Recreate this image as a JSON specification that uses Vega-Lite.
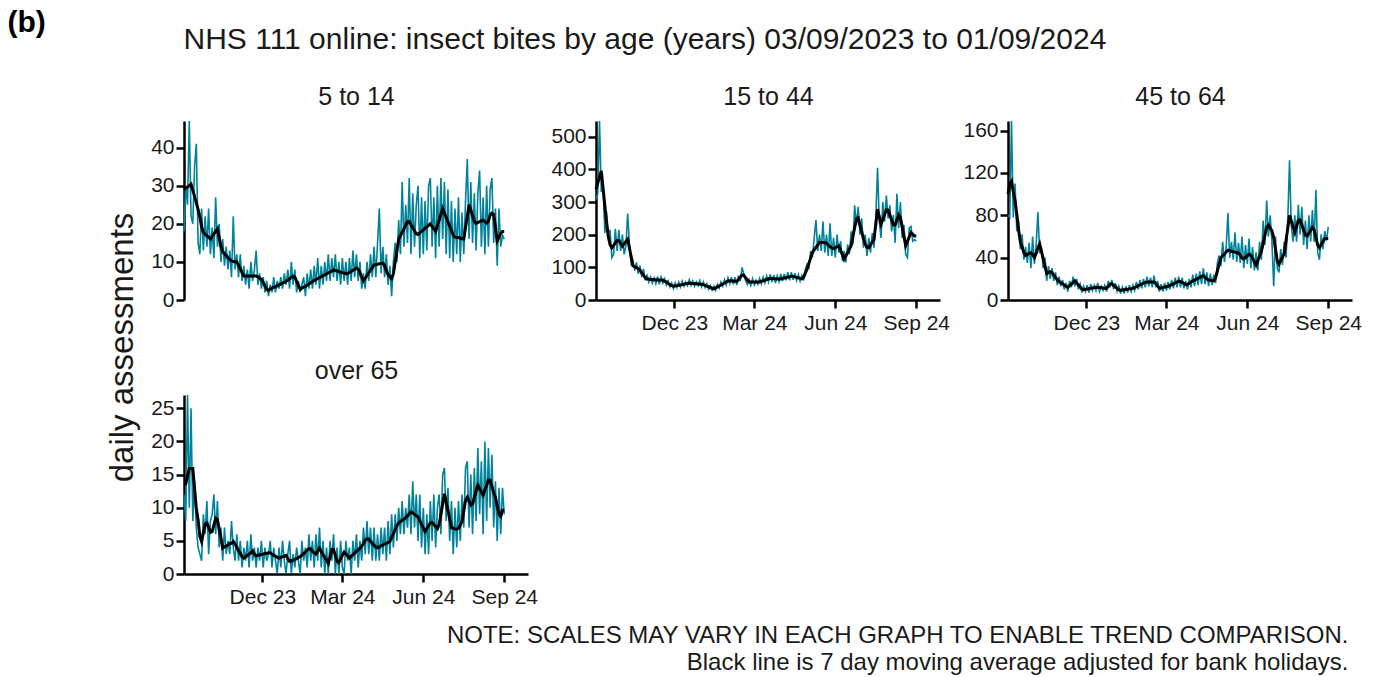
{
"$schema":"https://vega.github.io/schema/vega-lite/v6.json",
"padding":{"left":7,"top":7,"right":5,"bottom":2},
"background":"white",
"datasets":{"t":[
{"d":"2023-09-03","a":18,"ma":29,"b":308,"mb":339,"c":80,"mc":100,"e":12,"me":13.5},
{"d":"2023-09-05","a":30,"ma":29.4,"b":325,"mb":358,"c":78,"mc":109,"e":8,"me":13.6},
{"d":"2023-09-07","a":25,"ma":29.7,"b":548,"mb":376,"c":169,"mc":112,"e":27,"me":14.8},
{"d":"2023-09-09","a":47,"ma":30,"b":330,"mb":395,"c":78,"mc":102,"e":10,"me":15.9},
{"d":"2023-09-11","a":22,"ma":30.4,"b":360,"mb":344,"c":110,"mc":94,"e":25,"me":15.9},
{"d":"2023-09-13","a":20,"ma":28.8,"b":205,"mb":290,"c":65,"mc":81,"e":8,"me":15.9},
{"d":"2023-09-15","a":35,"ma":27.2,"b":270,"mb":235,"c":75,"mc":66,"e":14,"me":12.9},
{"d":"2023-09-17","a":41,"ma":25.5,"b":200,"mb":194,"c":48,"mc":55,"e":7,"me":9.9},
{"d":"2023-09-19","a":15,"ma":23.8,"b":215,"mb":169,"c":62,"mc":50,"e":4,"me":8.2},
{"d":"2023-09-21","a":12,"ma":21.8,"b":130,"mb":160,"c":38,"mc":45,"e":3,"me":5.7},
{"d":"2023-09-23","a":24,"ma":19.2,"b":140,"mb":167,"c":50,"mc":42,"e":2,"me":4.9},
{"d":"2023-09-25","a":13,"ma":17.8,"b":218,"mb":175,"c":35,"mc":43,"e":9,"me":6.2},
{"d":"2023-09-27","a":22,"ma":17.3,"b":150,"mb":182,"c":54,"mc":44,"e":6,"me":7.5},
{"d":"2023-09-29","a":14,"ma":16.9,"b":215,"mb":182,"c":30,"mc":44.6,"e":11,"me":7.7},
{"d":"2023-10-01","a":24,"ma":16.4,"b":150,"mb":173,"c":60,"mc":43,"e":3,"me":7},
{"d":"2023-10-03","a":12,"ma":16,"b":200,"mb":165,"c":34,"mc":40,"e":8,"me":6.3},
{"d":"2023-10-05","a":19,"ma":16.7,"b":140,"mb":172,"c":52,"mc":44,"e":9,"me":6.4},
{"d":"2023-10-07","a":11,"ma":17.4,"b":165,"mb":179,"c":83,"mc":49,"e":12,"me":7.4},
{"d":"2023-10-09","a":27,"ma":18,"b":265,"mb":186,"c":44,"mc":53,"e":6,"me":8.4},
{"d":"2023-10-11","a":14,"ma":18.7,"b":170,"mb":159,"c":50,"mc":46,"e":11,"me":8.2},
{"d":"2023-10-13","a":20,"ma":16.4,"b":110,"mb":132,"c":30,"mc":39,"e":4,"me":6.8},
{"d":"2023-10-15","a":10,"ma":14.1,"b":120,"mb":105,"c":40,"mc":32,"e":7,"me":5.4},
{"d":"2023-10-17","a":16,"ma":12.7,"b":90,"mb":102,"c":18,"mc":25,"e":2,"me":3.9},
{"d":"2023-10-19","a":9,"ma":12.2,"b":115,"mb":99,"c":32,"mc":26,"e":7,"me":4.1},
{"d":"2023-10-21","a":14,"ma":11.6,"b":80,"mb":96,"c":20,"mc":26.6,"e":3,"me":4.2},
{"d":"2023-10-23","a":8,"ma":11.1,"b":105,"mb":91,"c":30,"mc":25.9,"e":5,"me":4.4},
{"d":"2023-10-25","a":13,"ma":10.6,"b":70,"mb":83,"c":18,"mc":23.6,"e":3,"me":4.6},
{"d":"2023-10-27","a":6,"ma":10.3,"b":95,"mb":76,"c":26,"mc":21.4,"e":8,"me":4.6},
{"d":"2023-10-29","a":22,"ma":10.1,"b":60,"mb":68,"c":14,"mc":19,"e":4,"me":4.9},
{"d":"2023-10-31","a":8,"ma":10,"b":75,"mb":64,"c":22,"mc":17.5,"e":2,"me":4.5},
{"d":"2023-11-02","a":12,"ma":10,"b":55,"mb":64,"c":13,"mc":16.4,"e":6,"me":4},
{"d":"2023-11-04","a":6,"ma":9.1,"b":70,"mb":63,"c":19,"mc":15.3,"e":2,"me":3.5},
{"d":"2023-11-06","a":12,"ma":8.2,"b":52,"mb":63,"c":10,"mc":14.2,"e":5,"me":3.1},
{"d":"2023-11-08","a":5,"ma":7.2,"b":68,"mb":62,"c":16,"mc":13,"e":1,"me":2.6},
{"d":"2023-11-10","a":9,"ma":6.3,"b":50,"mb":62,"c":8,"mc":12,"e":4,"me":2.4},
{"d":"2023-11-12","a":4,"ma":6.3,"b":72,"mb":61,"c":18,"mc":13.5,"e":2,"me":2.6},
{"d":"2023-11-14","a":8,"ma":6.3,"b":48,"mb":61,"c":12,"mc":15,"e":5,"me":2.8},
{"d":"2023-11-16","a":3,"ma":6.3,"b":70,"mb":61,"c":22,"mc":16.5,"e":1,"me":3},
{"d":"2023-11-18","a":10,"ma":6.3,"b":52,"mb":61,"c":13,"mc":18,"e":6,"me":3.2},
{"d":"2023-11-20","a":5,"ma":6.3,"b":65,"mb":57,"c":20,"mc":16.1,"e":2,"me":3.5},
{"d":"2023-11-22","a":8,"ma":6.3,"b":45,"mb":56,"c":10,"mc":14.2,"e":4,"me":3},
{"d":"2023-11-24","a":13,"ma":6.3,"b":58,"mb":51,"c":15,"mc":12.3,"e":1,"me":2.7},
{"d":"2023-11-26","a":4,"ma":6.1,"b":40,"mb":47,"c":7,"mc":10.4,"e":4,"me":2.8},
{"d":"2023-11-28","a":7,"ma":5.7,"b":52,"mb":44,"c":13,"mc":9.7,"e":2,"me":2.9},
{"d":"2023-11-30","a":3,"ma":5.5,"b":35,"mb":42.5,"c":8,"mc":10,"e":5,"me":2.9},
{"d":"2023-12-02","a":6,"ma":4.6,"b":52,"mb":43,"c":14,"mc":10.3,"e":1,"me":3},
{"d":"2023-12-04","a":2,"ma":3.7,"b":38,"mb":44,"c":7,"mc":10.7,"e":4,"me":3.1},
{"d":"2023-12-06","a":5,"ma":2.8,"b":55,"mb":45,"c":15,"mc":11,"e":2,"me":3.1},
{"d":"2023-12-08","a":1,"ma":2.5,"b":40,"mb":46,"c":9,"mc":11.4,"e":3,"me":3.2},
{"d":"2023-12-10","a":4,"ma":2.9,"b":58,"mb":47,"c":14,"mc":11.7,"e":5,"me":3.2},
{"d":"2023-12-12","a":2,"ma":3.1,"b":42,"mb":48.5,"c":9,"mc":12,"e":1,"me":3},
{"d":"2023-12-14","a":6,"ma":3.3,"b":55,"mb":49.5,"c":16,"mc":11.8,"e":4,"me":2.8},
{"d":"2023-12-16","a":2,"ma":3.5,"b":44,"mb":50.5,"c":8,"mc":11.7,"e":2,"me":2.7},
{"d":"2023-12-18","a":5,"ma":3.7,"b":62,"mb":52,"c":13,"mc":11.5,"e":0,"me":2.5},
{"d":"2023-12-20","a":3,"ma":4,"b":45,"mb":51,"c":9,"mc":11.3,"e":4,"me":2.4},
{"d":"2023-12-22","a":6,"ma":4.2,"b":58,"mb":50.8,"c":14,"mc":11.2,"e":1,"me":2.5},
{"d":"2023-12-24","a":3,"ma":4.4,"b":42,"mb":50.2,"c":8,"mc":11,"e":5,"me":2.6},
{"d":"2023-12-26","a":7,"ma":4.6,"b":55,"mb":49.6,"c":18,"mc":13,"e":2,"me":2.7},
{"d":"2023-12-28","a":4,"ma":4.9,"b":44,"mb":49,"c":12,"mc":15,"e":0,"me":2.8},
{"d":"2023-12-30","a":8,"ma":5.2,"b":60,"mb":48.5,"c":19,"mc":15.3,"e":3,"me":2.35},
{"d":"2024-01-01","a":3,"ma":5.6,"b":40,"mb":48,"c":10,"mc":13.9,"e":5,"me":1.9},
{"d":"2024-01-03","a":10,"ma":5.9,"b":55,"mb":46.9,"c":16,"mc":12.5,"e":0,"me":2},
{"d":"2024-01-05","a":4,"ma":6.3,"b":38,"mb":44.8,"c":8,"mc":11.1,"e":3,"me":2.1},
{"d":"2024-01-07","a":8,"ma":6,"b":50,"mb":42.6,"c":13,"mc":9.7,"e":1,"me":2.2},
{"d":"2024-01-09","a":2,"ma":4.9,"b":33,"mb":40.5,"c":6,"mc":9.1,"e":4,"me":2.3},
{"d":"2024-01-11","a":5,"ma":3.9,"b":45,"mb":38.3,"c":12,"mc":9.4,"e":2,"me":2.5},
{"d":"2024-01-13","a":2,"ma":2.8,"b":30,"mb":36,"c":6,"mc":9.7,"e":0,"me":2.6},
{"d":"2024-01-15","a":4,"ma":3.1,"b":42,"mb":34,"c":13,"mc":10,"e":5,"me":2.85},
{"d":"2024-01-17","a":6,"ma":3.4,"b":30,"mb":37,"c":7,"mc":10.2,"e":2,"me":3.1},
{"d":"2024-01-19","a":1,"ma":3.6,"b":48,"mb":40,"c":14,"mc":10.5,"e":4,"me":3.3},
{"d":"2024-01-21","a":7,"ma":3.9,"b":36,"mb":43,"c":8,"mc":10.7,"e":1,"me":3.6},
{"d":"2024-01-23","a":3,"ma":4.2,"b":55,"mb":46,"c":14,"mc":11,"e":6,"me":3.8},
{"d":"2024-01-25","a":8,"ma":4.5,"b":42,"mb":49,"c":9,"mc":11.8,"e":2,"me":3.8},
{"d":"2024-01-27","a":3,"ma":4.8,"b":62,"mb":52,"c":17,"mc":12.6,"e":5,"me":3.4},
{"d":"2024-01-29","a":9,"ma":5.1,"b":46,"mb":55,"c":10,"mc":13.4,"e":1,"me":3.2},
{"d":"2024-01-31","a":4,"ma":5.4,"b":68,"mb":58,"c":19,"mc":14.2,"e":6,"me":3},
{"d":"2024-02-02","a":11,"ma":5.6,"b":50,"mb":58.8,"c":11,"mc":15,"e":2,"me":3.5},
{"d":"2024-02-04","a":3,"ma":5.9,"b":70,"mb":58.3,"c":20,"mc":15.8,"e":7,"me":3.9},
{"d":"2024-02-06","a":9,"ma":6.1,"b":48,"mb":57.9,"c":12,"mc":16.6,"e":1,"me":3.4},
{"d":"2024-02-08","a":4,"ma":6.4,"b":70,"mb":57.4,"c":22,"mc":17,"e":5,"me":2.9},
{"d":"2024-02-10","a":10,"ma":6.6,"b":46,"mb":57,"c":13,"mc":17,"e":0,"me":2.5},
{"d":"2024-02-12","a":5,"ma":6.9,"b":75,"mb":63,"c":21,"mc":17,"e":4,"me":2.1},
{"d":"2024-02-14","a":12,"ma":7.1,"b":58,"mb":70,"c":12,"mc":17,"e":0,"me":1.6},
{"d":"2024-02-16","a":5,"ma":7.4,"b":100,"mb":76,"c":23,"mc":17,"e":5,"me":2.6},
{"d":"2024-02-18","a":11,"ma":7.6,"b":80,"mb":75.6,"c":12,"mc":15.8,"e":2,"me":3.7},
{"d":"2024-02-20","a":6,"ma":7.9,"b":60,"mb":68.7,"c":18,"mc":13.4,"e":6,"me":3.7},
{"d":"2024-02-22","a":12,"ma":7.75,"b":48,"mb":61.9,"c":8,"mc":11,"e":0,"me":2.8},
{"d":"2024-02-24","a":5,"ma":7.6,"b":62,"mb":55,"c":15,"mc":11.4,"e":4,"me":1.9},
{"d":"2024-02-26","a":10,"ma":7.5,"b":45,"mb":55,"c":8,"mc":11.8,"e":0,"me":1.7},
{"d":"2024-02-28","a":4,"ma":7.3,"b":65,"mb":55,"c":16,"mc":12.2,"e":5,"me":2.2},
{"d":"2024-03-01","a":11,"ma":7.2,"b":46,"mb":55,"c":9,"mc":12.6,"e":1,"me":2.8},
{"d":"2024-03-03","a":5,"ma":7,"b":60,"mb":55,"c":17,"mc":13,"e":0,"me":3.3},
{"d":"2024-03-05","a":10,"ma":6.9,"b":48,"mb":55,"c":10,"mc":13.8,"e":5,"me":3},
{"d":"2024-03-07","a":4,"ma":6.95,"b":66,"mb":55,"c":19,"mc":14.5,"e":2,"me":2.7},
{"d":"2024-03-09","a":11,"ma":7.2,"b":50,"mb":57,"c":11,"mc":15.3,"e":4,"me":2.4},
{"d":"2024-03-11","a":5,"ma":7.5,"b":70,"mb":59,"c":21,"mc":16.1,"e":0,"me":2.65},
{"d":"2024-03-13","a":13,"ma":7.8,"b":52,"mb":61,"c":12,"mc":16.8,"e":5,"me":2.9},
{"d":"2024-03-15","a":6,"ma":8.1,"b":74,"mb":63,"c":22,"mc":17.6,"e":2,"me":3.15},
{"d":"2024-03-17","a":12,"ma":8.4,"b":55,"mb":65,"c":12,"mc":17.5,"e":6,"me":3.4},
{"d":"2024-03-19","a":5,"ma":8.1,"b":78,"mb":66,"c":21,"mc":16.5,"e":1,"me":3.65},
{"d":"2024-03-21","a":10,"ma":7.1,"b":55,"mb":66,"c":11,"mc":15.5,"e":5,"me":3.9},
{"d":"2024-03-23","a":3,"ma":6,"b":76,"mb":65,"c":18,"mc":14.5,"e":2,"me":4.2},
{"d":"2024-03-25","a":7,"ma":5,"b":52,"mb":65,"c":10,"mc":14.6,"e":7,"me":4.6},
{"d":"2024-03-27","a":3,"ma":5.7,"b":74,"mb":64.5,"c":20,"mc":15.7,"e":3,"me":5.1},
{"d":"2024-03-29","a":10,"ma":6.4,"b":56,"mb":64,"c":12,"mc":16.9,"e":8,"me":5.3},
{"d":"2024-03-31","a":5,"ma":7.1,"b":80,"mb":64.5,"c":24,"mc":18,"e":3,"me":5.25},
{"d":"2024-04-02","a":12,"ma":7.8,"b":58,"mb":66.4,"c":13,"mc":18.8,"e":7,"me":4.95},
{"d":"2024-04-04","a":6,"ma":8.5,"b":80,"mb":67.6,"c":25,"mc":19.7,"e":2,"me":4.6},
{"d":"2024-04-06","a":14,"ma":9.2,"b":60,"mb":68.8,"c":14,"mc":20.5,"e":7,"me":4.35},
{"d":"2024-04-08","a":6,"ma":9.3,"b":85,"mb":70,"c":27,"mc":21.3,"e":2,"me":4.05},
{"d":"2024-04-10","a":15,"ma":9.4,"b":60,"mb":71,"c":15,"mc":22.2,"e":6,"me":3.97},
{"d":"2024-04-12","a":24,"ma":9.5,"b":85,"mb":73,"c":30,"mc":23,"e":2,"me":4.1},
{"d":"2024-04-14","a":7,"ma":9.6,"b":62,"mb":72.3,"c":15,"mc":21.4,"e":7,"me":4.25},
{"d":"2024-04-16","a":14,"ma":9.7,"b":82,"mb":70.8,"c":26,"mc":19.8,"e":3,"me":4.4},
{"d":"2024-04-18","a":6,"ma":9.05,"b":60,"mb":69.3,"c":13,"mc":18.9,"e":7,"me":4.5},
{"d":"2024-04-20","a":12,"ma":7.6,"b":78,"mb":67.8,"c":25,"mc":18.6,"e":2,"me":4.6},
{"d":"2024-04-22","a":4,"ma":6.6,"b":58,"mb":66.3,"c":14,"mc":18.4,"e":8,"me":4.75},
{"d":"2024-04-24","a":9,"ma":6.1,"b":75,"mb":64.8,"c":24,"mc":18.1,"e":3,"me":4.9},
{"d":"2024-04-26","a":1,"ma":5.6,"b":60,"mb":70,"c":16,"mc":21.1,"e":9,"me":5.5},
{"d":"2024-04-28","a":10,"ma":6.9,"b":95,"mb":83,"c":35,"mc":27.4,"e":4,"me":6.1},
{"d":"2024-04-30","a":15,"ma":9.9,"b":110,"mb":95,"c":42,"mc":33.7,"e":9,"me":6.7},
{"d":"2024-05-02","a":10,"ma":12.9,"b":100,"mb":112,"c":32,"mc":40,"e":5,"me":7.3},
{"d":"2024-05-04","a":21,"ma":16,"b":150,"mb":129,"c":55,"mc":41.75,"e":10,"me":7.7},
{"d":"2024-05-06","a":12,"ma":16.9,"b":130,"mb":146,"c":36,"mc":43.5,"e":6,"me":7.9},
{"d":"2024-05-08","a":31,"ma":17.8,"b":190,"mb":153.5,"c":50,"mc":45.3,"e":11,"me":8.1},
{"d":"2024-05-10","a":14,"ma":18.7,"b":245,"mb":161,"c":82,"mc":47,"e":6,"me":8.3},
{"d":"2024-05-12","a":25,"ma":19.6,"b":150,"mb":168.5,"c":40,"mc":46.5,"e":10,"me":8.5},
{"d":"2024-05-14","a":15,"ma":20.5,"b":200,"mb":176,"c":55,"mc":46,"e":7,"me":8.76},
{"d":"2024-05-16","a":32,"ma":20.6,"b":150,"mb":176,"c":38,"mc":45.6,"e":12,"me":9.1},
{"d":"2024-05-18","a":12,"ma":19.8,"b":240,"mb":176,"c":64,"mc":45.2,"e":6,"me":9.4},
{"d":"2024-05-20","a":28,"ma":19,"b":145,"mb":176,"c":36,"mc":44.7,"e":14,"me":9.2},
{"d":"2024-05-22","a":14,"ma":18.2,"b":200,"mb":174,"c":54,"mc":44.2,"e":7,"me":9},
{"d":"2024-05-24","a":25,"ma":17.4,"b":135,"mb":168,"c":35,"mc":42.5,"e":12,"me":8.8},
{"d":"2024-05-26","a":30,"ma":17.2,"b":235,"mb":163.5,"c":60,"mc":39.5,"e":5,"me":8.6},
{"d":"2024-05-28","a":11,"ma":17.6,"b":135,"mb":158.5,"c":30,"mc":38.75,"e":12,"me":8.05},
{"d":"2024-05-30","a":27,"ma":18,"b":190,"mb":157.4,"c":52,"mc":40.25,"e":4,"me":7.5},
{"d":"2024-06-01","a":12,"ma":18.4,"b":130,"mb":160,"c":34,"mc":41.75,"e":10,"me":6.95},
{"d":"2024-06-03","a":26,"ma":18.8,"b":200,"mb":163,"c":58,"mc":43.25,"e":3,"me":6.4},
{"d":"2024-06-05","a":13,"ma":19.2,"b":145,"mb":166,"c":30,"mc":42.4,"e":9,"me":6.8},
{"d":"2024-06-07","a":30,"ma":19.6,"b":180,"mb":152,"c":50,"mc":39.3,"e":3,"me":7.3},
{"d":"2024-06-09","a":32,"ma":20,"b":120,"mb":139,"c":28,"mc":36.1,"e":11,"me":7.7},
{"d":"2024-06-11","a":14,"ma":19.3,"b":150,"mb":125,"c":45,"mc":33,"e":5,"me":7.75},
{"d":"2024-06-13","a":27,"ma":18.7,"b":115,"mb":135,"c":28,"mc":37.3,"e":12,"me":7.45},
{"d":"2024-06-15","a":11,"ma":18,"b":170,"mb":145.5,"c":55,"mc":41.7,"e":4,"me":7.15},
{"d":"2024-06-17","a":30,"ma":19.5,"b":140,"mb":156,"c":38,"mc":46,"e":10,"me":6.85},
{"d":"2024-06-19","a":14,"ma":21,"b":210,"mb":166,"c":75,"mc":53.4,"e":12,"me":7.5},
{"d":"2024-06-21","a":32,"ma":22.5,"b":170,"mb":194,"c":52,"mc":60.9,"e":6,"me":9},
{"d":"2024-06-23","a":16,"ma":24,"b":290,"mb":221.6,"c":94,"mc":68.3,"e":15,"me":10.6},
{"d":"2024-06-25","a":31,"ma":22.8,"b":230,"mb":249,"c":60,"mc":70.7,"e":16,"me":12.1},
{"d":"2024-06-27","a":12,"ma":21.7,"b":285,"mb":252,"c":80,"mc":68,"e":8,"me":10.8},
{"d":"2024-06-29","a":29,"ma":20.5,"b":200,"mb":230,"c":55,"mc":65.3,"e":13,"me":9.6},
{"d":"2024-07-01","a":11,"ma":19.4,"b":250,"mb":209,"c":13,"mc":58.7,"e":5,"me":8.3},
{"d":"2024-07-03","a":26,"ma":18.2,"b":160,"mb":187,"c":60,"mc":48,"e":11,"me":7},
{"d":"2024-07-05","a":10,"ma":17.1,"b":200,"mb":171,"c":30,"mc":37.3,"e":3,"me":6.9},
{"d":"2024-07-07","a":24,"ma":16.5,"b":135,"mb":161,"c":26,"mc":33.7,"e":10,"me":6.8},
{"d":"2024-07-09","a":12,"ma":16.4,"b":190,"mb":160,"c":48,"mc":37.1,"e":4,"me":6.75},
{"d":"2024-07-11","a":27,"ma":16.4,"b":145,"mb":169,"c":33,"mc":40.6,"e":11,"me":6.9},
{"d":"2024-07-13","a":10,"ma":16.2,"b":205,"mb":177,"c":55,"mc":44,"e":5,"me":7.4},
{"d":"2024-07-15","a":23,"ma":16.1,"b":160,"mb":186,"c":40,"mc":56,"e":12,"me":7.9},
{"d":"2024-07-17","a":12,"ma":16,"b":250,"mb":232,"c":75,"mc":68,"e":7,"me":9.5},
{"d":"2024-07-19","a":26,"ma":19,"b":405,"mb":278,"c":132,"mc":80,"e":16,"me":11.1},
{"d":"2024-07-21","a":37,"ma":22,"b":240,"mb":255,"c":70,"mc":74.7,"e":17,"me":11.6},
{"d":"2024-07-23","a":16,"ma":25,"b":190,"mb":232,"c":55,"mc":69.3,"e":7,"me":11},
{"d":"2024-07-25","a":31,"ma":23.6,"b":300,"mb":246.6,"c":80,"mc":64,"e":15,"me":10.4},
{"d":"2024-07-27","a":15,"ma":22.1,"b":240,"mb":261,"c":55,"mc":69.6,"e":6,"me":10.6},
{"d":"2024-07-29","a":28,"ma":20.7,"b":320,"mb":276,"c":90,"mc":75.2,"e":16,"me":11.5},
{"d":"2024-07-31","a":13,"ma":20.1,"b":250,"mb":275,"c":62,"mc":75.6,"e":8,"me":12.5},
{"d":"2024-08-02","a":28,"ma":20.3,"b":290,"mb":260,"c":88,"mc":70.9,"e":19,"me":13.4},
{"d":"2024-08-04","a":34,"ma":20.6,"b":210,"mb":245,"c":52,"mc":66.1,"e":9,"me":12.9},
{"d":"2024-08-06","a":14,"ma":20.8,"b":260,"mb":230,"c":75,"mc":61.4,"e":17,"me":12.4},
{"d":"2024-08-08","a":27,"ma":21,"b":175,"mb":229.7,"c":48,"mc":60.4,"e":6,"me":11.9},
{"d":"2024-08-10","a":12,"ma":20.6,"b":325,"mb":245,"c":80,"mc":63.1,"e":20,"me":12.7},
{"d":"2024-08-12","a":30,"ma":20.2,"b":220,"mb":260.6,"c":55,"mc":65.9,"e":8,"me":13.4},
{"d":"2024-08-14","a":14,"ma":20.75,"b":300,"mb":253,"c":85,"mc":68.6,"e":19,"me":14.2},
{"d":"2024-08-16","a":29,"ma":22.3,"b":190,"mb":224,"c":55,"mc":66.3,"e":10,"me":14.15},
{"d":"2024-08-18","a":32,"ma":22.8,"b":230,"mb":195,"c":104,"mc":59,"e":18,"me":13.2},
{"d":"2024-08-20","a":15,"ma":22.5,"b":140,"mb":166,"c":45,"mc":51.7,"e":7,"me":12.3},
{"d":"2024-08-22","a":24,"ma":19,"b":130,"mb":179.7,"c":38,"mc":49.4,"e":14,"me":11.5},
{"d":"2024-08-24","a":9,"ma":15.5,"b":220,"mb":193,"c":62,"mc":52.3,"e":5,"me":10.3},
{"d":"2024-08-26","a":24,"ma":16.5,"b":225,"mb":207,"c":48,"mc":55.1,"e":13,"me":9},
{"d":"2024-08-28","a":14,"ma":17.5,"b":180,"mb":201.5,"c":65,"mc":58,"e":6,"me":8.7},
{"d":"2024-08-30","a":17,"ma":18,"b":185,"mb":196,"c":56,"mc":58,"e":13,"me":9.6},
{"d":"2024-09-01","a":16,"ma":18,"b":180,"mb":196,"c":69,"mc":58,"e":9,"me":9.6}
]},
"data":{"name":"t"},
"columns":3,
"spacing":{"row":95,"column":68},
"bounds":"flush",
"concat":[
{"width":344,"height":179,
 "encoding":{"x":{"field":"d","type":"temporal","scale":{"type":"utc","domain":[{"year":2023,"month":9,"date":3,"utc":true},{"year":2024,"month":9,"date":28,"utc":true}]},
   "axis":{"labels":false,"ticks":false,"domain":false,"title":"5 to 14","titleFontSize":25,"titleAlign":"center","titleBaseline":"alphabetic","titleX":172,"titleY":-196,"titleAngle":0}}},
 "layer":[
  {"mark":{"type":"line","color":"#00829B","strokeWidth":1.6},"encoding":{"y":{"field":"a","type":"quantitative","scale":{"domain":[0,47],"nice":false},"axis":{"values":[0,10,20,30,40],"title":"daily assessments","titleFontSize":33,"titleAngle":270,"titleAlign":"center","titleBaseline":"middle","titleX":-62,"titleY":226}}}},
  {"mark":{"type":"line","color":"#000000","strokeWidth":3},"encoding":{"y":{"field":"ma","type":"quantitative","axis":{"values":[0,10,20,30,40],"title":"daily assessments","titleFontSize":33,"titleAngle":270,"titleAlign":"center","titleBaseline":"middle","titleX":-62,"titleY":226}}}}
 ]},
{"width":344,"height":179,
 "encoding":{"x":{"field":"d","type":"temporal","scale":{"type":"utc","domain":[{"year":2023,"month":9,"date":3,"utc":true},{"year":2024,"month":9,"date":28,"utc":true}]},
   "axis":{"values":[{"year":2023,"month":12,"date":1,"utc":true},{"year":2024,"month":3,"date":1,"utc":true},{"year":2024,"month":6,"date":1,"utc":true},{"year":2024,"month":9,"date":1,"utc":true}],"labelExpr":"utcFormat(datum.value, '%b %y')","labelFlush":false,"labelOverlap":false,
    "title":"NHS 111 online: insect bites by age (years) 03/09/2023 to 01/09/2024","titleFontSize":30,"titleAlign":"left","titleBaseline":"alphabetic","titleX":-413,"titleY":-252,"titleAngle":0}}},
 "layer":[
  {"mark":{"type":"line","color":"#00829B","strokeWidth":1.6},"encoding":{"y":{"field":"b","type":"quantitative","scale":{"domain":[0,548],"nice":false},"axis":{"values":[0,100,200,300,400,500],"title":"15 to 44","titleFontSize":25,"titleAngle":0,"titleAlign":"center","titleBaseline":"alphabetic","titleX":172,"titleY":-17}}}},
  {"mark":{"type":"line","color":"#000000","strokeWidth":3},"encoding":{"y":{"field":"mb","type":"quantitative","axis":{"values":[0,100,200,300,400,500],"title":"15 to 44","titleFontSize":25,"titleAngle":0,"titleAlign":"center","titleBaseline":"alphabetic","titleX":172,"titleY":-17}}}}
 ]},
{"width":344,"height":179,
 "encoding":{"x":{"field":"d","type":"temporal","scale":{"type":"utc","domain":[{"year":2023,"month":9,"date":3,"utc":true},{"year":2024,"month":9,"date":28,"utc":true}]},
   "axis":{"values":[{"year":2023,"month":12,"date":1,"utc":true},{"year":2024,"month":3,"date":1,"utc":true},{"year":2024,"month":6,"date":1,"utc":true},{"year":2024,"month":9,"date":1,"utc":true}],"labelExpr":"utcFormat(datum.value, '%b %y')","labelFlush":false,"labelOverlap":false,
    "title":["NOTE: SCALES MAY VARY IN EACH GRAPH TO ENABLE TREND COMPARISON.","Black line is 7 day moving average adjusted for bank holidays."],"titleFont":"Liberation Sans","titleFontSize":24,"titleLineHeight":27,"titleAlign":"right","titleBaseline":"alphabetic","titleX":340,"titleY":342,"titleAngle":0}}},
 "layer":[
  {"mark":{"type":"line","color":"#00829B","strokeWidth":1.6},"encoding":{"y":{"field":"c","type":"quantitative","scale":{"domain":[0,169],"nice":false},"axis":{"values":[0,40,80,120,160],"title":"45 to 64","titleFontSize":25,"titleAngle":0,"titleAlign":"center","titleBaseline":"alphabetic","titleX":172,"titleY":-17}}}},
  {"mark":{"type":"line","color":"#000000","strokeWidth":3},"encoding":{"y":{"field":"mc","type":"quantitative","axis":{"values":[0,40,80,120,160],"title":"45 to 64","titleFontSize":25,"titleAngle":0,"titleAlign":"center","titleBaseline":"alphabetic","titleX":172,"titleY":-17}}}}
 ]},
{"width":344,"height":179,
 "encoding":{"x":{"field":"d","type":"temporal","scale":{"type":"utc","domain":[{"year":2023,"month":9,"date":3,"utc":true},{"year":2024,"month":9,"date":28,"utc":true}]},
   "axis":{"values":[{"year":2023,"month":12,"date":1,"utc":true},{"year":2024,"month":3,"date":1,"utc":true},{"year":2024,"month":6,"date":1,"utc":true},{"year":2024,"month":9,"date":1,"utc":true}],"labelExpr":"utcFormat(datum.value, '%b %y')","labelFlush":false,"labelOverlap":false,
    "title":"over 65","titleFontSize":25,"titleAlign":"center","titleBaseline":"alphabetic","titleX":172,"titleY":-196,"titleAngle":0}}},
 "layer":[
  {"mark":{"type":"line","color":"#00829B","strokeWidth":1.6},"encoding":{"y":{"field":"e","type":"quantitative","scale":{"domain":[0,27],"nice":false},"axis":{"values":[0,5,10,15,20,25],"title":"(b)","titleFontSize":30,"titleFontWeight":"bold","titleColor":"#000000","titleAngle":0,"titleAlign":"left","titleBaseline":"alphabetic","titleX":-177,"titleY":-364}}}},
  {"mark":{"type":"line","color":"#000000","strokeWidth":3},"encoding":{"y":{"field":"me","type":"quantitative","axis":{"values":[0,5,10,15,20,25],"title":"(b)","titleFontSize":30,"titleFontWeight":"bold","titleColor":"#000000","titleAngle":0,"titleAlign":"left","titleBaseline":"alphabetic","titleX":-177,"titleY":-364}}}}
 ]}
],
"config":{
 "font":"Liberation Sans",
 "view":{"stroke":null},
 "axis":{"grid":false,"domainColor":"#000000","domainWidth":2.5,"tickColor":"#000000","tickWidth":2.5,"tickSize":8,"labelFont":"Liberation Sans","labelFontSize":21,"labelColor":"#1a1a1a","labelPadding":2,"titleFont":"Liberation Sans","titleFontWeight":"normal","titleColor":"#1a1a1a"},
 "axisX":{"labelPadding":4}
}
}
